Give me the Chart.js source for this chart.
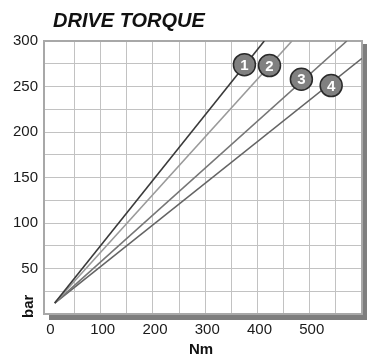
<!DOCTYPE html>
<html>
<head>
<meta charset="utf-8">
<script src="https://cdn.jsdelivr.net/npm/chart.js@4/dist/chart.umd.min.js"></script>
<style>
  html, body { margin: 0; padding: 0; background: #fff; }
  #wrap { position: relative; width: 367px; height: 356px; }
</style>
</head>
<body>
<div id="wrap"><canvas id="c" width="367" height="356"></canvas></div>
<script>
// Titles
const chartTitle = 'DRIVE TORQUE';
const xAxisTitle = 'Nm';
const yAxisTitle = 'bar';

// Axis ticks
const xTickValues = [0, 50, 100, 150, 200, 250, 300, 350, 400, 450, 500, 550, 600];
const xTickLabels = ['0', '', '100', '', '200', '', '300', '', '400', '', '500', '', ''];
const yTickValues = [0, 25, 50, 75, 100, 125, 150, 175, 200, 225, 250, 275, 300];
const yTickLabels = ['', '', '50', '', '100', '', '150', '', '200', '', '250', '', '300'];

// Torque (Nm) and pressure (bar) for the four drive sizes
const seriesNames = ['1', '2', '3', '4'];
const torque1 = [12, 413];
const pressure1 = [12, 300];
const torque2 = [12, 466];
const pressure2 = [12, 300];
const torque3 = [12, 571];
const pressure3 = [12, 300];
const torque4 = [12, 600];
const pressure4 = [12, 281];

// Numbered marker positions along each line
const markerTorque = [375, 423, 484, 541];
const markerPressure = [274, 273, 258, 251];

const lineColors = ['#3a3a3a', '#9a9a9a', '#767676', '#646464'];

const toPoints = (xs, ys) => xs.map((x, i) => ({ x: x, y: ys[i] }));

const lineSets = [
  [torque1, pressure1],
  [torque2, pressure2],
  [torque3, pressure3],
  [torque4, pressure4]
].map((pair, i) => ({
  label: 'Drive ' + seriesNames[i],
  data: toPoints(pair[0], pair[1]),
  showLine: true,
  borderColor: lineColors[i],
  borderWidth: 1.6,
  pointRadius: 0,
  tension: 0,
  order: 2
}));

const markerSet = {
  label: 'markers',
  data: toPoints(markerTorque, markerPressure),
  showLine: false,
  pointRadius: 11,
  pointHoverRadius: 11,
  pointBackgroundColor: '#808080',
  pointBorderColor: '#2a2a2a',
  pointBorderWidth: 1.5,
  order: 1
};

// Frame with drop shadow, drawn over the grid
const framePlugin = {
  id: 'frame',
  beforeDatasetsDraw(chart) {
    const { ctx, chartArea: a } = chart;
    ctx.save();
    ctx.fillStyle = '#7e7e7e';
    ctx.fillRect(a.right + 1, a.top + 3, 367 - a.right - 1, a.bottom - a.top + 3);
    ctx.fillRect(a.left + 5, a.bottom + 1, 367 - a.left - 5, 5);
    ctx.strokeStyle = '#a8a8a8';
    ctx.lineWidth = 2;
    ctx.strokeRect(a.left, a.top, a.right - a.left, a.bottom - a.top);
    ctx.restore();
  }
};

// Title, axis titles and marker numbers
const textPlugin = {
  id: 'texts',
  afterDatasetsDraw(chart) {
    const { ctx } = chart;
    ctx.save();
    ctx.fillStyle = '#111';
    ctx.font = 'italic bold 20px "Liberation Sans", Arial, sans-serif';
    ctx.textAlign = 'left';
    ctx.textBaseline = 'alphabetic';
    ctx.fillText(chartTitle, 53, 27);

    ctx.font = 'bold 15px "Liberation Sans", Arial, sans-serif';
    ctx.textAlign = 'center';
    ctx.fillText(xAxisTitle, 201, 354);

    ctx.save();
    ctx.translate(33, 318);
    ctx.rotate(-Math.PI / 2);
    ctx.textAlign = 'left';
    ctx.fillText(yAxisTitle, 0, 0);
    ctx.restore();

    const meta = chart.getDatasetMeta(chart.data.datasets.length - 1);
    ctx.fillStyle = '#ffffff';
    ctx.font = 'bold 15px "Liberation Sans", Arial, sans-serif';
    ctx.textAlign = 'center';
    ctx.textBaseline = 'middle';
    meta.data.forEach((pt, i) => {
      ctx.fillText(seriesNames[i], pt.x, pt.y + 1);
    });
    ctx.restore();
  }
};

const gridColor = (edgeValues) => (c) =>
  edgeValues.includes(c.tick && c.tick.value) ? 'rgba(0,0,0,0)' : '#c2c2c2';

new Chart(document.getElementById('c'), {
  type: 'scatter',
  data: { datasets: [...lineSets, markerSet] },
  options: {
    responsive: false,
    animation: false,
    devicePixelRatio: 1,
    layout: { autoPadding: false, padding: { top: 41, right: 5, left: 0, bottom: 0 } },
    plugins: {
      legend: { display: false },
      title: { display: false },
      tooltip: { enabled: false }
    },
    scales: {
      x: {
        type: 'linear',
        min: -8.5,
        max: 600,
        afterBuildTicks(scale) {
          scale.ticks = xTickValues.map(v => ({ value: v }));
        },
        afterFit(scale) {
          scale.height = 42;
          scale.paddingLeft = 0;
          scale.paddingRight = 0;
        },
        border: { display: false },
        grid: { color: gridColor([0, 600]), lineWidth: 1, drawTicks: false },
        ticks: {
          autoSkip: false,
          maxRotation: 0,
          padding: 7,
          labelOffset: 2,
          color: '#1a1a1a',
          font: { family: '"Liberation Sans", Arial, sans-serif', size: 15 },
          callback: (v) => xTickLabels[xTickValues.indexOf(v)]
        }
      },
      y: {
        type: 'linear',
        min: 0,
        max: 300,
        afterBuildTicks(scale) {
          scale.ticks = yTickValues.map(v => ({ value: v }));
        },
        afterFit(scale) {
          scale.width = 44;
          scale.paddingTop = 0;
          scale.paddingBottom = 0;
        },
        border: { display: false },
        grid: { color: gridColor([0, 300]), lineWidth: 1, drawTicks: false },
        ticks: {
          autoSkip: false,
          padding: 6,
          color: '#1a1a1a',
          font: { family: '"Liberation Sans", Arial, sans-serif', size: 15 },
          callback: (v) => yTickLabels[yTickValues.indexOf(v)]
        }
      }
    }
  },
  plugins: [framePlugin, textPlugin]
});
</script>
</body>
</html>
